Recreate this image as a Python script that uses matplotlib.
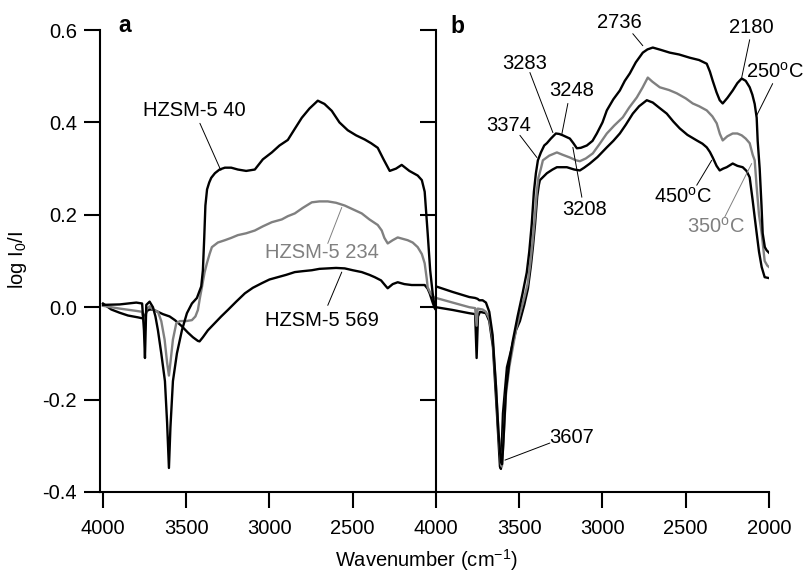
import matplotlib
matplotlib.use("Agg")
import matplotlib.pyplot as plt

plt.rcParams['font.family'] = ['Liberation Sans', 'DejaVu Sans']
plt.rcParams['mathtext.fontset'] = 'custom'
plt.rcParams['mathtext.rm'] = 'Liberation Sans'
plt.rcParams['mathtext.it'] = 'Liberation Sans:italic'
plt.rcParams['mathtext.bf'] = 'Liberation Sans:bold'
plt.rcParams['axes.unicode_minus'] = False

# ---------------- Panel a data ----------------
a40_wn = [4000, 3900, 3800, 3765, 3754, 3748, 3740, 3720, 3700, 3685, 3670, 3650, 3628, 3615, 3604,
          3595, 3580, 3556, 3526, 3496, 3466, 3436, 3410, 3400, 3392, 3385, 3375, 3362, 3350, 3328,
          3300, 3268, 3230, 3190, 3140, 3088, 3040, 2986, 2940, 2890, 2850, 2806, 2760, 2710, 2670,
          2626, 2580, 2530, 2480, 2428, 2390, 2350, 2315, 2278, 2240, 2206, 2160, 2110, 2085, 2068,
          2058, 2050, 2035, 2020, 2008, 2000]
a40_val = [0.005, 0.006, 0.010, 0.008, -0.050, -0.110, 0.005, 0.012, 0.000, -0.020, -0.050, -0.100,
           -0.160, -0.250, -0.348, -0.260, -0.160, -0.100, -0.050, -0.013, 0.008, 0.020, 0.045, 0.080,
           0.150, 0.220, 0.255, 0.270, 0.280, 0.290, 0.298, 0.302, 0.302, 0.298, 0.295, 0.298, 0.320,
           0.335, 0.350, 0.362, 0.385, 0.410, 0.430, 0.447, 0.440, 0.425, 0.400, 0.383, 0.372, 0.363,
           0.355, 0.345, 0.320, 0.295, 0.300, 0.308, 0.295, 0.285, 0.275, 0.250, 0.200, 0.160, 0.080,
           0.030, 0.000, -0.005]

a234_wn = [4000, 3900, 3800, 3765, 3754, 3748, 3740, 3720, 3700, 3670, 3650, 3630, 3615, 3604, 3595,
           3580, 3560, 3538, 3500, 3466, 3445, 3430, 3418, 3406, 3390, 3376, 3360, 3346, 3310, 3268,
           3230, 3190, 3140, 3088, 3040, 2986, 2926, 2890, 2848, 2800, 2746, 2700, 2650, 2600, 2548,
           2500, 2446, 2400, 2350, 2326, 2310, 2290, 2260, 2230, 2200, 2170, 2140, 2110, 2085, 2068,
           2055, 2050, 2030, 2008, 2000]
a234_val = [0.003, -0.003, -0.008, -0.010, -0.030, -0.050, -0.005, 0.002, -0.005, -0.010, -0.030,
            -0.070, -0.120, -0.148, -0.120, -0.070, -0.035, -0.030, -0.030, -0.028, -0.020, -0.006,
            0.020, 0.043, 0.075, 0.095, 0.115, 0.130, 0.140, 0.145, 0.150, 0.156, 0.160, 0.166, 0.175,
            0.184, 0.190, 0.197, 0.203, 0.215, 0.227, 0.229, 0.229, 0.226, 0.220, 0.212, 0.203, 0.190,
            0.178, 0.166, 0.150, 0.138, 0.145, 0.151, 0.148, 0.145, 0.140, 0.130, 0.115, 0.095, 0.060,
            0.043, 0.028, 0.020, 0.018]

a569_wn = [4000, 3950, 3900, 3850, 3790, 3765, 3750, 3736, 3720, 3700, 3670, 3640, 3600, 3568, 3530,
           3490, 3460, 3430, 3420, 3400, 3370, 3330, 3290, 3250, 3200, 3148, 3100, 3046, 3000, 2950,
           2900, 2848, 2800, 2746, 2700, 2650, 2600, 2548, 2500, 2446, 2400, 2368, 2330, 2300, 2290,
           2260, 2230, 2190, 2146, 2100, 2068, 2050, 2038, 2020, 2008, 2000]
a569_val = [0.008, -0.005, -0.012, -0.018, -0.022, -0.024, -0.020, -0.008, -0.005, -0.005, -0.010,
            -0.015, -0.020, -0.028, -0.040, -0.055, -0.065, -0.073, -0.074, -0.065, -0.050, -0.035,
            -0.020, -0.006, 0.012, 0.030, 0.042, 0.052, 0.060, 0.065, 0.070, 0.076, 0.078, 0.080,
            0.083, 0.084, 0.085, 0.084, 0.080, 0.076, 0.070, 0.065, 0.058, 0.045, 0.041, 0.050, 0.054,
            0.050, 0.048, 0.048, 0.048, 0.040, 0.030, 0.010, -0.002, -0.006]

# ---------------- Panel b data ----------------
b250_wn = [4000, 3900, 3800, 3765, 3750, 3740, 3720, 3700, 3680, 3660, 3640, 3625, 3610, 3603, 3595,
           3580, 3560, 3540, 3510, 3480, 3455, 3440, 3425, 3412, 3400, 3388, 3370, 3350, 3334, 3310,
           3280, 3260, 3238, 3196, 3175, 3154, 3130, 3094, 3060, 3034, 3000, 2974, 2935, 2896, 2866,
           2836, 2800, 2758, 2730, 2698, 2650, 2596, 2540, 2476, 2420, 2374, 2355, 2338, 2315, 2296,
           2278, 2250, 2218, 2190, 2164, 2140, 2116, 2100, 2086, 2074, 2068, 2056, 2045, 2038, 2025,
           2014, 2000]
b250_val = [0.045, 0.033, 0.022, 0.020, 0.018, 0.015, 0.015, 0.010, -0.010, -0.060, -0.170, -0.270,
            -0.335, -0.340, -0.290, -0.180, -0.120, -0.075, -0.020, 0.030, 0.075, 0.120, 0.180, 0.250,
            0.290, 0.318, 0.335, 0.350, 0.355, 0.365, 0.376, 0.375, 0.372, 0.365, 0.355, 0.344, 0.345,
            0.350, 0.360, 0.376, 0.400, 0.426, 0.450, 0.469, 0.490, 0.506, 0.530, 0.551, 0.558, 0.562,
            0.557, 0.551, 0.547, 0.540, 0.535, 0.527, 0.510, 0.490, 0.465, 0.448, 0.441, 0.453, 0.469,
            0.485, 0.495, 0.490, 0.476, 0.460, 0.440, 0.410, 0.360, 0.300, 0.220, 0.160, 0.130, 0.123,
            0.118]

b350_wn = [4000, 3900, 3800, 3765, 3756, 3750, 3720, 3700, 3680, 3660, 3640, 3625, 3610, 3604, 3595,
           3580, 3560, 3540, 3520, 3500, 3470, 3450, 3435, 3420, 3405, 3395, 3385, 3370, 3358, 3320,
           3274, 3240, 3196, 3160, 3136, 3100, 3058, 3020, 2974, 2930, 2878, 2840, 2794, 2760, 2728,
           2700, 2656, 2600, 2554, 2500, 2458, 2420, 2374, 2340, 2314, 2295, 2278, 2250, 2218, 2190,
           2164, 2140, 2116, 2098, 2086, 2074, 2060, 2044, 2026, 2010, 2000]
b350_val = [0.020, 0.010, 0.000, -0.002, -0.040, -0.003, -0.005, -0.010, -0.025, -0.070, -0.170,
            -0.270, -0.340, -0.345, -0.290, -0.190, -0.130, -0.090, -0.050, -0.020, 0.020, 0.050,
            0.090, 0.140, 0.200, 0.250, 0.280, 0.300, 0.318, 0.328, 0.335, 0.330, 0.324, 0.318, 0.316,
            0.322, 0.333, 0.352, 0.376, 0.393, 0.411, 0.432, 0.454, 0.475, 0.497, 0.488, 0.476, 0.470,
            0.463, 0.452, 0.441, 0.435, 0.426, 0.413, 0.398, 0.375, 0.361, 0.370, 0.376, 0.376, 0.372,
            0.365, 0.355, 0.330, 0.318, 0.260, 0.200, 0.160, 0.100, 0.090, 0.087]

b450_wn = [4000, 3900, 3800, 3765, 3756, 3748, 3736, 3700, 3680, 3658, 3634, 3616, 3610, 3598, 3574,
           3544, 3520, 3496, 3470, 3448, 3430, 3418, 3405, 3392, 3382, 3376, 3334, 3300, 3274, 3240,
           3214, 3170, 3136, 3110, 3076, 3030, 2974, 2935, 2896, 2860, 2818, 2780, 2734, 2698, 2660,
           2614, 2575, 2536, 2490, 2434, 2400, 2374, 2355, 2338, 2315, 2296, 2275, 2254, 2218, 2190,
           2158, 2135, 2116, 2098, 2086, 2074, 2060, 2044, 2026, 2000]
b450_val = [0.000, -0.006, -0.013, -0.015, -0.110, -0.020, -0.010, -0.013, -0.030, -0.086, -0.230,
            -0.345, -0.350, -0.230, -0.130, -0.086, -0.050, -0.030, 0.005, 0.040, 0.090, 0.130, 0.180,
            0.240, 0.265, 0.275, 0.290, 0.298, 0.303, 0.303, 0.303, 0.298, 0.296, 0.302, 0.311, 0.325,
            0.346, 0.360, 0.376, 0.395, 0.419, 0.435, 0.448, 0.443, 0.432, 0.419, 0.402, 0.387, 0.373,
            0.361, 0.354, 0.346, 0.336, 0.324, 0.306, 0.296, 0.300, 0.303, 0.311, 0.306, 0.303, 0.295,
            0.281, 0.231, 0.195, 0.160, 0.120, 0.087, 0.065, 0.063]

y_ticks = [-0.4, -0.2, 0.0, 0.2, 0.4, 0.6]
y_labels = ['-0.4', '-0.2', '0.0', '0.2', '0.4', '0.6']
xa_ticks = [4000, 3500, 3000, 2500]
xb_ticks = [4000, 3500, 3000, 2500, 2000]

BLACK = '#000000'
GRAY = '#808080'
FS = 14.5
LW = 1.7

W, H = 812, 572
fig = plt.figure(figsize=(W / 100, H / 100), dpi=100)
bottom = 1 - 492 / H
height = (492 - 30) / H
ax_a = fig.add_axes([100 / W, bottom, (436 - 100) / W, height])
ax_b = fig.add_axes([436 / W, bottom, (769 - 436) / W, height])

for ax in (ax_a, ax_b):
    ax.set_facecolor('none')
    ax.spines['top'].set_visible(False)
    ax.spines['right'].set_visible(False)
    for s in ('left', 'bottom'):
        ax.spines[s].set_linewidth(1.5)
    ax.set_ylim(-0.4, 0.6)
    ax.set_yticks(y_ticks)
    ax.tick_params(direction='out', length=11.5, width=1.5, labelsize=FS)
    ax.tick_params(axis='x', pad=8)
    ax.tick_params(axis='y', pad=5)

ax_a.set_xlim(4018, 2000)
ax_b.set_xlim(4000, 2000)
ax_a.set_xticks(xa_ticks)
ax_a.set_xticklabels([str(t) for t in xa_ticks])
ax_b.set_xticks(xb_ticks)
ax_b.set_xticklabels([str(t) for t in xb_ticks])
ax_a.set_yticklabels(y_labels)
ax_b.set_yticklabels([''] * len(y_ticks))

ax_a.plot(a569_wn, a569_val, color=BLACK, lw=LW)
ax_a.plot(a234_wn, a234_val, color=GRAY, lw=LW)
ax_a.plot(a40_wn, a40_val, color=BLACK, lw=LW)

ax_b.plot(b450_wn, b450_val, color=BLACK, lw=LW)
ax_b.plot(b350_wn, b350_val, color=GRAY, lw=LW)
ax_b.plot(b250_wn, b250_val, color=BLACK, lw=LW)


def note(ax, text, text_pos, line_start, xy, color=BLACK):
    ax.annotate('', xy=xy, xytext=line_start,
                arrowprops=dict(arrowstyle='-', color=color, lw=0.7, shrinkA=0, shrinkB=0),
                annotation_clip=False)
    ax.text(text_pos[0], text_pos[1], text, ha='center', va='center', fontsize=FS,
            color=color, clip_on=False)


deg = r'$^{\mathregular{o}}$C'
note(ax_a, 'HZSM-5 40', (3454, 0.426), (3418, 0.398), (3292, 0.296))
note(ax_a, 'HZSM-5 234', (2686, 0.119), (2566, 0.216), (2650, 0.138), GRAY)
note(ax_a, 'HZSM-5 569', (2686, -0.028), (2566, 0.076), (2650, 0.004))

note(ax_b, '2736', (2896, 0.616), (2818, 0.592), (2758, 0.566))
note(ax_b, '2180', (2104, 0.605), (2116, 0.579), (2164, 0.497))
note(ax_b, '250' + deg, (1966, 0.509), (1978, 0.484), (2074, 0.415))
note(ax_b, '3283', (3466, 0.528), (3436, 0.508), (3298, 0.378))
note(ax_b, '3248', (3184, 0.469), (3208, 0.441), (3244, 0.375))
note(ax_b, '3374', (3562, 0.394), (3496, 0.372), (3394, 0.324))
note(ax_b, '3208', (3106, 0.212), (3124, 0.238), (3178, 0.346))
note(ax_b, '450' + deg, (2518, 0.240), (2434, 0.264), (2344, 0.318))
note(ax_b, '350' + deg, (2320, 0.174), (2266, 0.195), (2104, 0.311), GRAY)
note(ax_b, '3607', (3184, -0.281), (3316, -0.294), (3586, -0.331))

ax_a.text((118 - 100) / 336, (492 - 32) / 462, 'a', transform=ax_a.transAxes,
          fontsize=16.5, fontweight='bold', va='baseline', ha='left')
ax_b.text((450 - 436) / 333, (492 - 33) / 462, 'b', transform=ax_b.transAxes,
          fontsize=16.5, fontweight='bold', va='baseline', ha='left')

fig.text(426 / W, 1 - 567 / H, r'Wavenumber (cm$^{\mathregular{-1}}$)', ha='center',
         va='baseline', fontsize=FS)
fig.text(18 / W, 1 - 260 / H, r'log I$_{\mathregular{0}}$/I', ha='center', va='center',
         rotation=90, fontsize=FS)

fig.savefig('out.png', dpi=100, facecolor='white')
